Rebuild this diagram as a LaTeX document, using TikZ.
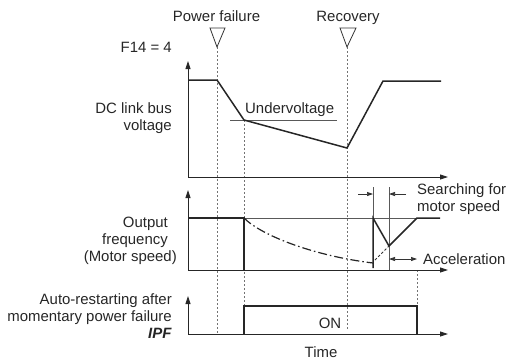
\documentclass[tikz,border=0pt]{standalone}
\usepackage{fontspec}
\setmainfont{Liberation Sans}
\usetikzlibrary{arrows.meta}

\begin{document}
\begin{tikzpicture}[
        x=1bp, y=-1bp,
        font=\fontsize{15}{17}\selectfont,
        axis/.style={-{Triangle[length=8bp, width=5bp]}, line width=0.9bp, black!85},
        sig/.style={line width=1.5bp, black!85, line join=miter},
        guide/.style={line width=0.6bp, black!65},
        tline/.style={line width=0.6bp, black!55, dash pattern=on 2bp off 2bp},
        dimarr/.style={-{Triangle[length=6bp, width=4bp]}, line width=0.7bp, black!80},
        evt/.style={line width=0.8bp, black!80, fill=white, line join=miter},
        lbl/.style={inner sep=0pt, text=black!85}
    ]
    \useasboundingbox (0,0) rectangle (506,361);

    % === Event instants ===
    \coordinate (pf) at (217,47);
    \coordinate (uv) at (244,120);
    \coordinate (rc) at (347,47);
    \draw[tline] (pf) -- (217,334);
    \draw[tline] (uv) -- (244,306);
    \draw[tline] (rc) -- (347,330);
    \draw[tline] (417,270) -- (417,306);

    \draw[evt] (210,28) -- (225,28) -- (pf) -- cycle;
    \draw[evt] (340,28) -- (356,28) -- (rc) -- cycle;
    \node[lbl, anchor=base] (pftxt) at (216.5,21) {Power failure};
    \node[lbl, anchor=base] (rctxt) at (348,21) {Recovery};
    \node[lbl, anchor=base east] (fsel) at (172,52) {F14 = 4};

    % === DC link bus voltage ===
    \coordinate (o1) at (188,177);
    \draw[axis] (o1) -- (188,61);
    \draw[axis] (o1) -- (448,177);
    \draw[guide] (230,120) -- (337,120);
    \coordinate (v0) at (188,80);
    \coordinate (v1) at (217,80);
    \coordinate (v2) at (383,81);
    \coordinate (v3) at (441,81);
    \draw[sig] (v0) -- (v1) -- (uv) -- (347,148) -- (v2) -- (v3);
    \node[lbl, anchor=east, align=right] (dcv) at (172,118) {DC link bus\\voltage};
    \node[lbl, anchor=base west] (uvtxt) at (245,113) {Undervoltage};

    % === Output frequency ===
    \coordinate (o2) at (188,270);
    \draw[axis] (o2) -- (188,190);
    \draw[axis] (o2) -- (448,270);
    \draw[guide] (188,218) -- (440,218);
    \draw[guide] (373,187) -- (373,218);
    \draw[guide] (389,187) -- (389,270);
    \coordinate (f1) at (244,218);
    \coordinate (f2) at (373,263);
    \coordinate (s1) at (373,218);
    \coordinate (s2) at (389,246);
    \coordinate (a1) at (417,218);
    \draw[sig] (188,218) -- (f1) -- (244,270);
    \draw[line width=1.2bp, black!85, dash pattern=on 9bp off 3bp on 1.5bp off 3bp]
        (f1) .. controls (262,236) and (315,256) .. (f2);
    \draw[sig] (373,268) -- (s1) -- (s2) -- (a1) -- (440,218);
    \draw[line width=0.9bp, black!80, dash pattern=on 2.5bp off 2bp] (375,260) -- (s2);

    \draw[dimarr] (358,194) -- (373,194);
    \draw[dimarr] (406,194) -- (389,194);
    \draw[dimarr, {Triangle[length=6bp, width=4bp]}-{Triangle[length=6bp, width=4bp]}] (389,259) -- (417,259);
    \node[lbl, anchor=west, align=left] (srch) at (417,199) {Searching for\\motor speed};
    \node[lbl, anchor=base west] (acc) at (423,264) {Acceleration};
    \node[lbl, anchor=east, align=right] (ofr) at (177,240.5)
        {Output\rule{9bp}{0pt}\\frequency\rule{9bp}{0pt}\\(Motor speed)};

    % === IPF signal ===
    \coordinate (o3) at (188,334);
    \draw[axis] (o3) -- (188,296);
    \draw[axis] (o3) -- (448,334);
    \draw[sig] (244,334) -- (244,306) -- (417,306) -- (417,334);
    \node[lbl, anchor=base] (ontxt) at (330,328) {ON};
    \node[lbl, anchor=east, align=right] (ipf) at (172,316.5)
        {Auto-restarting after\\momentary power failure\\\textbf{\textit{IPF}}};
    \node[lbl, anchor=base] (time) at (321,357) {Time};
\end{tikzpicture}
\end{document}
